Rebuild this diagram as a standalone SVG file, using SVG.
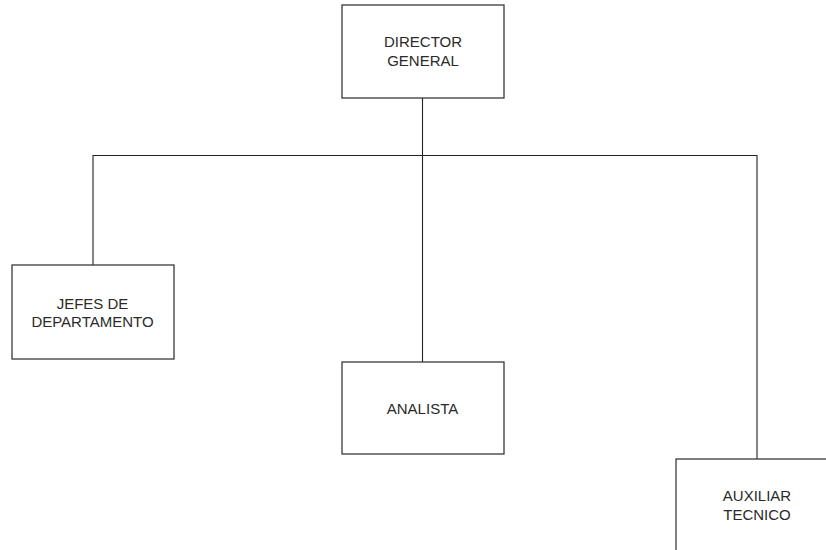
<svg xmlns="http://www.w3.org/2000/svg" width="826" height="550" viewBox="0 0 826 550">
<style>
.box{fill:#fff;stroke:#3a3a3a;stroke-width:1.3}
.ln{fill:none;stroke:#222;stroke-width:1.1}
.t{font-family:"Liberation Sans",Arial,sans-serif;font-size:15px;fill:#2a2a2a;text-anchor:middle}
</style>
<rect width="826" height="550" fill="#fff"/>
<g id="connectors">
<path class="ln" d="M422.5 98 V362"/>
<path class="ln" d="M93 265 V155.5 H757 V459"/>
</g>
<g id="director">
<rect class="box" x="342" y="5" width="162" height="93"/>
<text class="t" x="423" y="46.5">DIRECTOR</text>
<text class="t" x="423" y="65.5">GENERAL</text>
</g>
<g id="jefes">
<rect class="box" x="12" y="265" width="162" height="94"/>
<text class="t" x="92.5" y="308.5">JEFES DE</text>
<text class="t" x="92.5" y="327">DEPARTAMENTO</text>
</g>
<g id="analista">
<rect class="box" x="342" y="362" width="162" height="92"/>
<text class="t" x="422.5" y="413.5">ANALISTA</text>
</g>
<g id="auxiliar">
<rect class="box" x="676" y="459" width="162" height="100"/>
<text class="t" x="757" y="501">AUXILIAR</text>
<text class="t" x="757" y="519.5">TECNICO</text>
</g>
</svg>
